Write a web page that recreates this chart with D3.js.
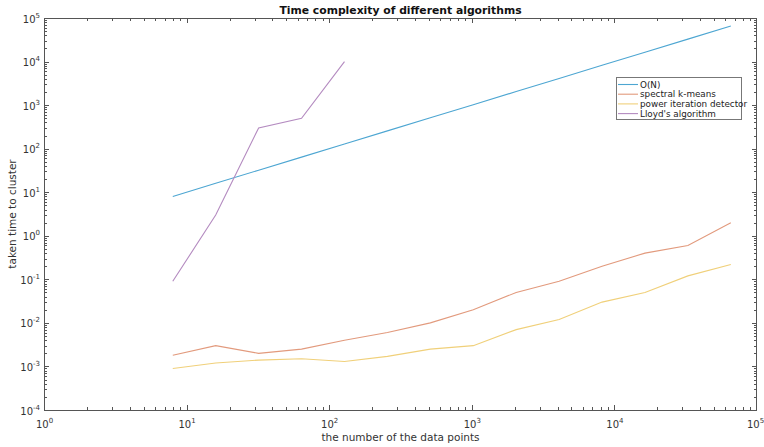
<!DOCTYPE html>
<html><head><meta charset="utf-8">
<script src="https://cdn.jsdelivr.net/npm/d3@7"></script>
<style>body{margin:0;background:#fff}svg{display:block}text{font-family:"DejaVu Sans",sans-serif}</style>
</head><body><svg id="c" width="764" height="447"></svg>
<script>
const nPoints = [8,16,32,64,128,256,512,1024,2048,4096,8192,16384,32768,65536];
const seriesNames = ["O(N)","spectral k-means","power iteration detector","Lloyd's algorithm"];
const oN = [8,16,32,64,128,256,512,1024,2048,4096,8192,16384,32768,65536];
const spectral = [0.0018,0.003,0.002,0.0025,0.004,0.006,0.01,0.02,0.05,0.09,0.2,0.4,0.6,2];
const power = [0.0009,0.0012,0.0014,0.0015,0.0013,0.0017,0.0025,0.003,0.007,0.012,0.03,0.05,0.12,0.22];
const lloyd = [0.09,3,300,500,10000];
const xTickExps = [0,1,2,3,4,5];
const yTickExps = [-4,-3,-2,-1,0,1,2,3,4,5];
const colors = ["#4da6d2","#e29a7d","#f0d07a","#b48bc0"];

const svg = d3.select("#c");
const L=44,R=757,T=18,B=410;
const x = d3.scaleLog().domain([1,1e5]).range([L,R]);
const y = d3.scaleLog().domain([1e-4,1e5]).range([B,T]);
const axisCol="#555";

const g = svg.append("g");
function tick(x1,y1,x2,y2){g.append("line").attr("x1",x1).attr("y1",y1).attr("x2",x2).attr("y2",y2).attr("stroke",axisCol).attr("stroke-width",1).attr("shape-rendering","crispEdges");}
for(let e=0;e<5;e++){for(let m=1;m<10;m++){const v=m*Math.pow(10,e);const px=Math.round(x(v))+0.5;const len=m===1?5:3;tick(px,B,px,B-len);tick(px,T,px,T+len);}}
for(let e=-4;e<5;e++){for(let m=1;m<10;m++){const v=m*Math.pow(10,e);const py=Math.round(y(v))+0.5;const len=m===1?5:3;tick(L,py,L+len,py);tick(R,py,R-len,py);}}
g.append("rect").attr("x",L+0.5).attr("y",T+0.5).attr("width",R-L-1).attr("height",B-T).attr("fill","none").attr("stroke",axisCol).attr("shape-rendering","crispEdges");

const xAxis = d3.axisBottom(x).tickValues(xTickExps.map(e=>Math.pow(10,e))).tickSize(0).tickFormat("");
const xa = svg.append("g").attr("transform",`translate(0,${B})`).call(xAxis);
xa.select(".domain").remove();
xa.selectAll(".tick").each(function(d,i){
  const last = i===xTickExps.length-1;
  const t=d3.select(this).append("text").attr("x",last?-2:0).attr("y",18).attr("text-anchor","middle").attr("fill","#333").attr("font-size",10);
  t.append("tspan").text("10");
  t.append("tspan").attr("dy",-5).attr("font-size",7).text(xTickExps[i]);
});
const yAxis = d3.axisLeft(y).tickValues(yTickExps.map(e=>Math.pow(10,e))).tickSize(0).tickFormat("");
const ya = svg.append("g").attr("transform",`translate(${L},0)`).call(yAxis);
ya.select(".domain").remove();
ya.selectAll(".tick").each(function(d,i){
  const t=d3.select(this).append("text").attr("x",-4).attr("y",4).attr("text-anchor","end").attr("fill","#333").attr("font-size",10);
  t.append("tspan").text("10");
  t.append("tspan").attr("dy",-5).attr("font-size",7).text(yTickExps[i]);
});

const line = d3.line().x(d=>x(d[0])).y(d=>y(d[1]));
const data = [oN, spectral, power, lloyd];
data.forEach((s,i)=>{
  svg.append("path").datum(s.map((v,j)=>[nPoints[j],v])).attr("d",line).attr("fill","none").attr("stroke",colors[i]).attr("stroke-width",1.1);
});

svg.append("text").attr("x",(L+R)/2).attr("y",14).attr("text-anchor","middle").attr("font-weight","bold").attr("font-size",10.8).attr("fill","#111").text("Time complexity of different algorithms");
svg.append("text").attr("x",(L+R)/2).attr("y",441).attr("text-anchor","middle").attr("font-size",10.5).attr("fill","#333").text("the number of the data points");
svg.append("text").attr("transform",`translate(16,${(T+B)/2}) rotate(-90)`).attr("text-anchor","middle").attr("font-size",10.5).attr("fill","#333").text("taken time to cluster");

const lg = svg.append("g");
lg.append("rect").attr("x",616.5).attr("y",77.5).attr("width",125).attr("height",42).attr("fill","#fff").attr("stroke","#777").attr("shape-rendering","crispEdges");
seriesNames.forEach((n,i)=>{
  const yy=84.5+i*9.7;
  lg.append("line").attr("x1",618).attr("x2",638).attr("y1",yy).attr("y2",yy).attr("stroke",colors[i]).attr("stroke-width",1.1);
  lg.append("text").attr("x",640).attr("y",yy+3).attr("font-size",8.8).attr("fill","#222").text(n);
});
</script></body></html>
